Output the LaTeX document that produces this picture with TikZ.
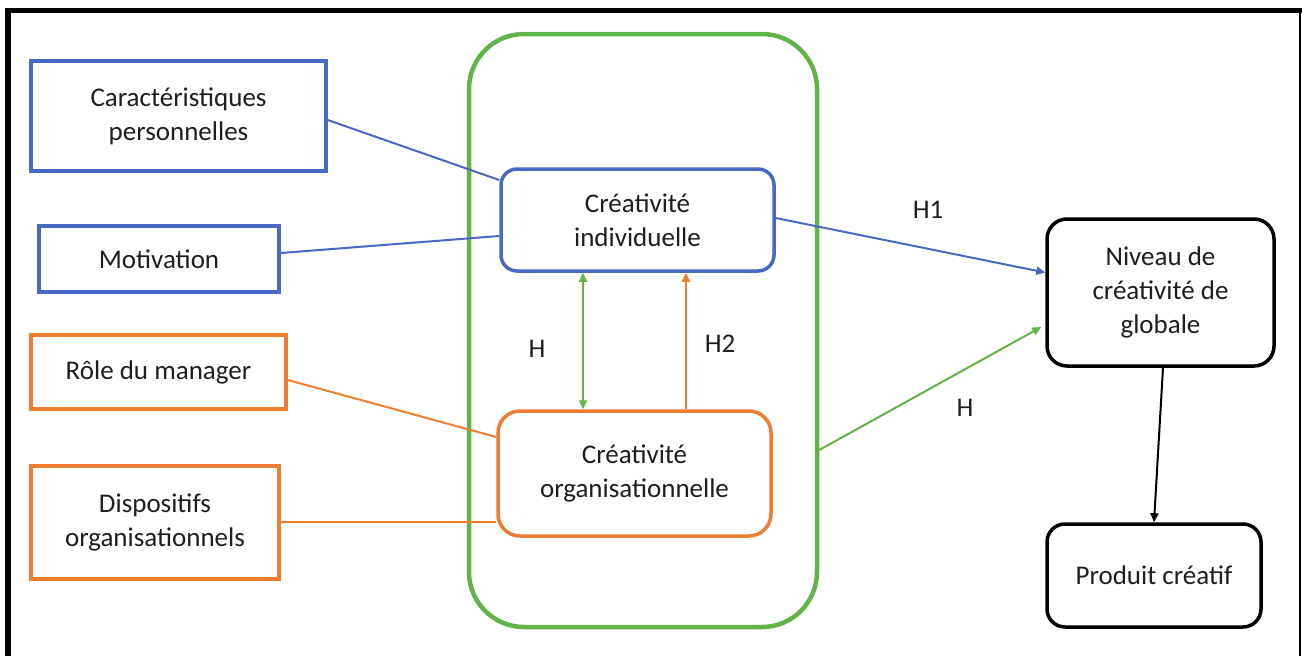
\documentclass[tikz,border=0pt]{standalone}
\usepackage{fontspec}
\setmainfont{Carlito}
\usetikzlibrary{arrows.meta}
\definecolor{cblue}{RGB}{72,104,196}
\definecolor{corange}{RGB}{237,125,49}
\definecolor{cgreen}{RGB}{96,180,72}
\definecolor{ctext}{RGB}{30,30,30}
\begin{document}
\begin{tikzpicture}[x=1pt,y=-1pt,
  every node/.style={font=\fontsize{27}{34}\selectfont, text=ctext, align=center},
  sqbox/.style={draw, rectangle, line width=3.5pt, fill=white},
  rbox/.style={draw, rectangle, rounded corners=16pt, line width=3.5pt, fill=white},
  link/.style={line width=2pt},
  tip/.style={-{Triangle[length=9pt,width=8pt]}},
  lbl/.style={inner sep=0pt}]
\useasboundingbox (0,0) rectangle (1302,656);
% frame
\draw[line width=6pt] (8,660) -- (8,10.5);
\draw[line width=5pt] (5,10.5) -- (1302,10.5);
\draw[line width=2pt] (1300,10) -- (1300,660);
% container
\node[draw=cgreen, line width=4.5pt, rounded corners=55pt, minimum width=348pt, minimum height=593pt, inner sep=0pt] (cont) at (643,330.5) {};
% left boxes
\node[sqbox, draw=cblue, minimum width=295pt, minimum height=110pt] (car) at (178.5,116) {Caractéristiques\\personnelles};
\node[sqbox, draw=cblue, minimum width=240pt, minimum height=66pt] (mot) at (159,259) {Motivation};
\node[sqbox, draw=corange, minimum width=255pt, minimum height=74pt] (role) at (158.5,372) {Rôle du manager};
\node[sqbox, draw=corange, minimum width=248pt, minimum height=113pt] (disp) at (155,522.5) {Dispositifs\\organisationnels};
% inner boxes
\node[rbox, draw=cblue, minimum width=273pt, minimum height=102pt] (ind) at (637.5,220) {Créativité\\individuelle};
\node[rbox, draw=corange, rounded corners=22pt, minimum width=273pt, minimum height=125pt] (org) at (634.5,473.5) {Créativité\\organisationnelle};
% right boxes
\node[rbox, draw=black, rounded corners=20pt, minimum width=227pt, minimum height=147pt] (niv) at (1160.5,292.5) {Niveau de\\créativité de\\globale};
\node[rbox, draw=black, rounded corners=18pt, minimum width=214pt, minimum height=103pt] (prod) at (1154,575.5) {Produit créatif};
% connectors
\draw[link, cblue] ([yshift=-4pt]car.east) -- ([yshift=40pt]ind.west);
\draw[link, cblue] ([yshift=6pt]mot.east) -- ([yshift=-16pt]ind.west);
\draw[link, corange] ([yshift=-8pt]role.east) -- ([yshift=36.5pt]org.west);
\draw[link, corange] ([yshift=0.5pt]disp.east) -- ([yshift=-48.5pt]org.west);
\draw[link, cgreen, {Triangle[length=9pt,width=8pt]}-{Triangle[length=9pt,width=8pt]}] ([xshift=-54.5pt]ind.south) -- ([xshift=-51.5pt]org.north);
\draw[link, corange, line width=2.6pt, tip] ([xshift=51.5pt]org.north) -- ([xshift=48.5pt]ind.south);
\draw[link, cblue, tip] ([yshift=2pt]ind.east) -- ([yshift=20pt]niv.west);
\draw[link, cgreen, tip] ([yshift=-119.5pt]cont.east) -- ([yshift=-34.5pt,xshift=-4pt]niv.west);
\draw[link, black, tip] ([xshift=2.5pt]niv.south) -- (prod.north);
% labels
\node[lbl] (h1) at (928,210) {H1};
\node[lbl] (hg) at (537,349) {H};
\node[lbl] (h2) at (720,344) {H2};
\node[lbl] (hr) at (965,408) {H};
\end{tikzpicture}
\end{document}
